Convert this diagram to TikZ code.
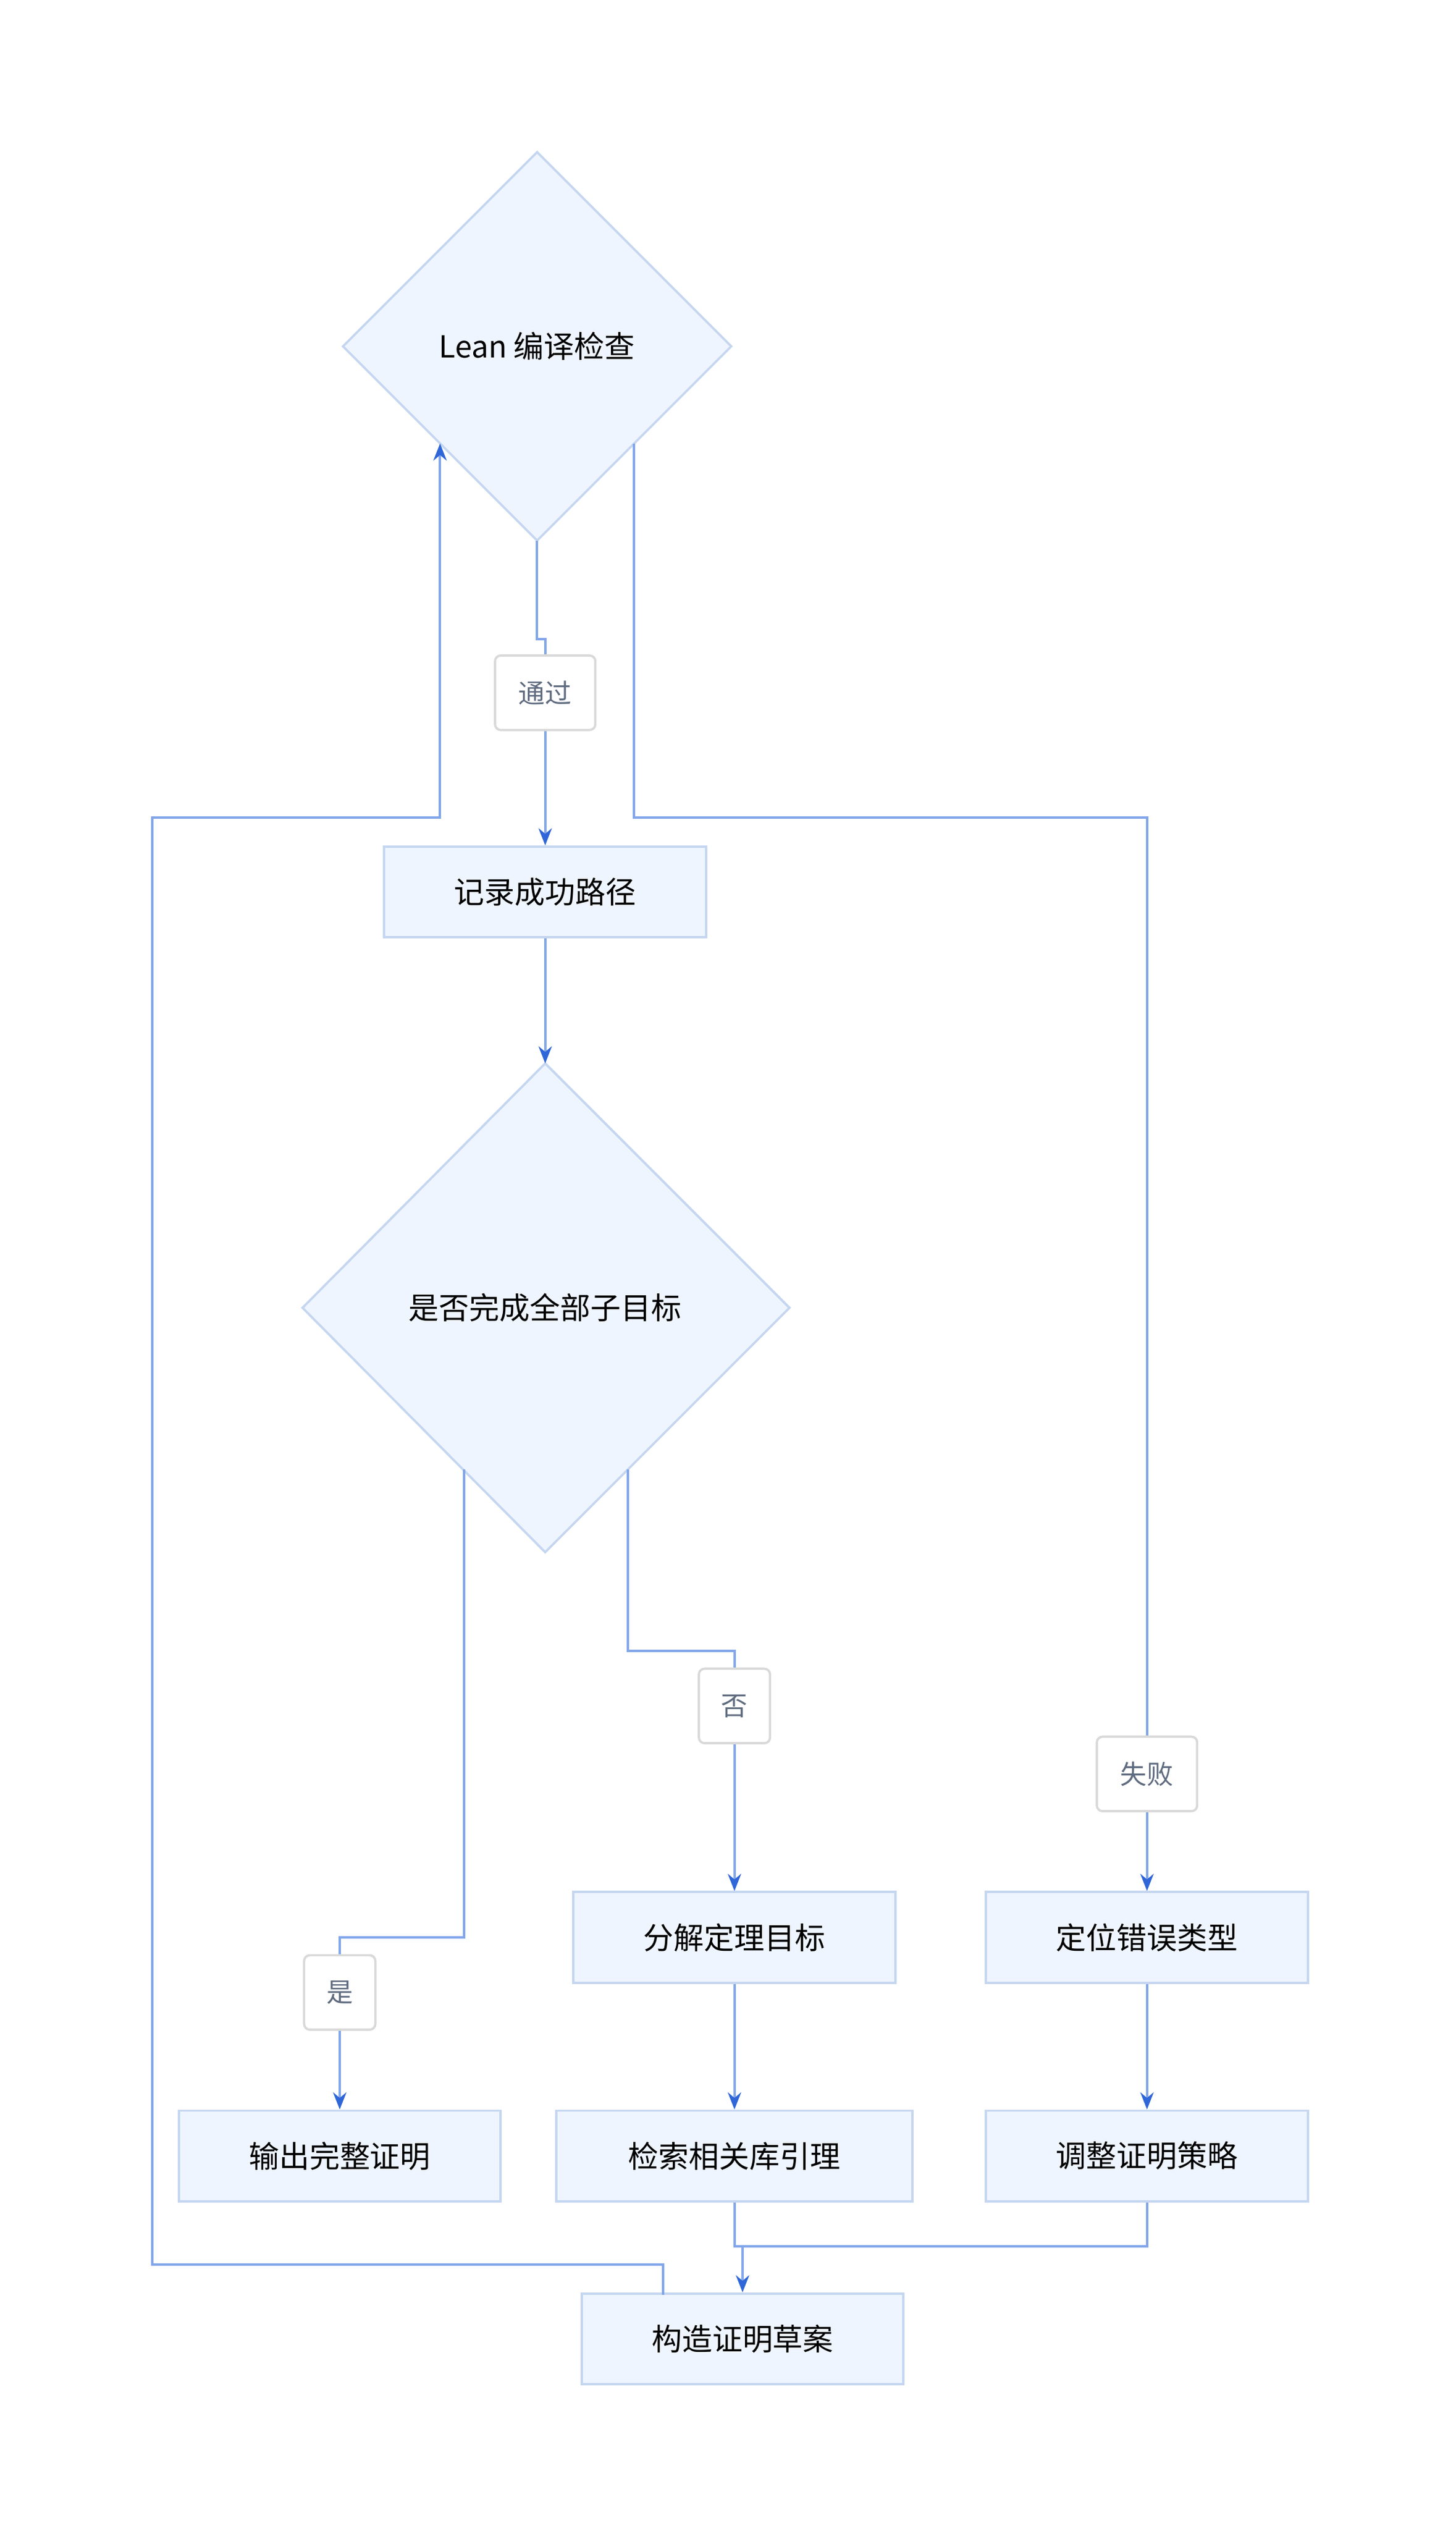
\documentclass[tikz,border=0pt]{standalone}
\usepackage{fontspec}
\setmainfont{Noto Sans CJK SC}
\usetikzlibrary{arrows.meta}
\definecolor{nfill}{HTML}{EFF5FE}
\definecolor{ndraw}{HTML}{C5D6F0}
\definecolor{eline}{HTML}{82A6EA}
\definecolor{etip}{HTML}{2F66D8}
\definecolor{ltext}{HTML}{5F6B7F}
\begin{document}
\begin{tikzpicture}[x=0.03cm,y=-0.03cm,
  box/.style={draw=ndraw,fill=nfill,line width=1.2pt,minimum width=5.97cm,minimum height=1.68cm,inner sep=0pt,font=\fontsize{16}{19}\selectfont},
  dia/.style={draw=ndraw,fill=nfill,line width=1.2pt},
  lab/.style={draw=black!15,fill=white,rounded corners=3pt,line width=1.2pt,minimum height=1.38cm,inner sep=0pt,text=ltext,font=\fontsize{14}{17}\selectfont},
  e/.style={draw=eline,line width=1.3pt},
  a/.style={e,-{Stealth[length=9pt,width=7pt,color=etip,fill=etip]}}]
\useasboundingbox (0,0) rectangle (900,1563.75);
% diamond 1
\coordinate (d1t) at (332,94);\coordinate (d1b) at (332,334);\coordinate (d1l) at (212,214);\coordinate (d1r) at (452,214);
\draw[dia] (d1t)--(d1r)--(d1b)--(d1l)--cycle;
\node[font=\fontsize{16}{19}\selectfont] (d1) at (332,214) {Lean 编译检查};
\coordinate (d1ll) at (272,274);\coordinate (d1lr) at (392,274);
% diamond 2
\coordinate (d2t) at (337,657);\coordinate (d2b) at (337,959);\coordinate (d2l) at (187,808);\coordinate (d2r) at (488,808);
\draw[dia] (d2t)--(d2r)--(d2b)--(d2l)--cycle;
\node[font=\fontsize{16}{19}\selectfont] (d2) at (337,808) {是否完成全部子目标};
\coordinate (d2ll) at (287,908);\coordinate (d2lr) at (388,908);
% boxes
\node[box] (rec) at (337,551) {记录成功路径};
\node[box] (fj) at (454,1197) {分解定理目标};
\node[box] (dw) at (709,1197) {定位错误类型};
\node[box] (sc) at (210,1332) {输出完整证明};
\node[box,minimum width=6.6cm] (js) at (454,1332) {检索相关库引理};
\node[box] (tz) at (709,1332) {调整证明策略};
\node[box] (gz) at (459,1445) {构造证明草案};
% edges
\draw[a] (d1b) -- (332,395) -- (337,395) -- (rec.north);
\node[lab,minimum width=1.86cm] (l1) at (337,428) {通过};
\draw[a] (d1lr) -- (392,505) -- (709,505) -- (dw.north);
\node[lab,minimum width=1.86cm] (l2) at (709,1096) {失败};
\draw[a] (410,1418) -- (410,1399) -- (94,1399) -- (94,505) -- (272,505) -- (d1ll);
\draw[a] (rec.south) -- (d2t);
\draw[a] (d2ll) -- (287,1197) -- (210,1197) -- (sc.north);
\node[lab,minimum width=1.32cm] (l3) at (210,1231) {是};
\draw[a] (d2lr) -- (388,1020) -- (454,1020) -- (fj.north);
\node[lab,minimum width=1.32cm] (l4) at (454,1054) {否};
\draw[a] (fj.south) -- (js.north);
\draw[a] (dw.south) -- (tz.north);
\draw[a] (js.south) -- (454,1388) -- (459,1388) -- (gz.north);
\draw[e] (tz.south) -- (709,1388) -- (459,1388);
\end{tikzpicture}
\end{document}
